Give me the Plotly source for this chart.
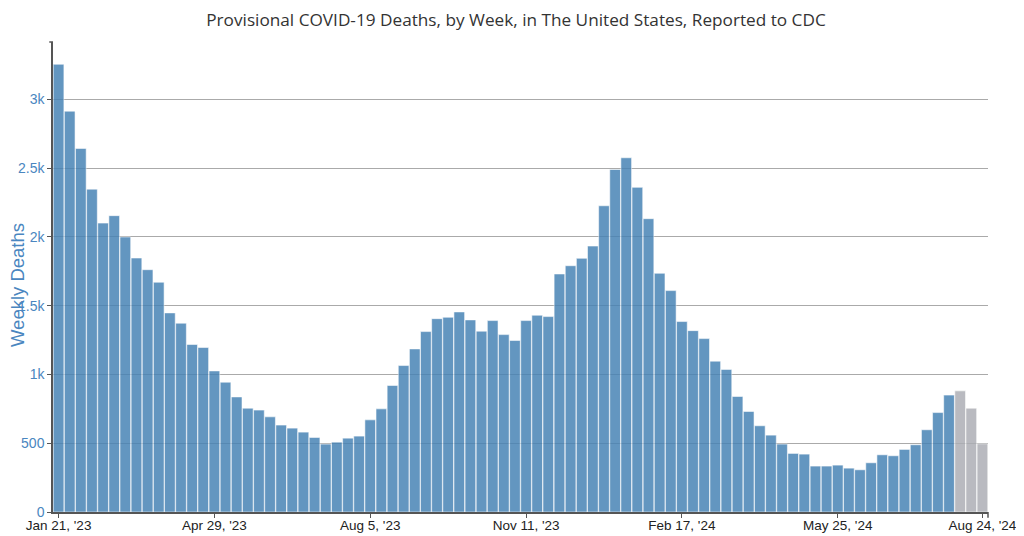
import pandas as pd
import plotly.graph_objects as go

# Weekly provisional COVID-19 deaths, weeks ending Jan 21 2023 .. Aug 24 2024
deaths = [
    3256, 2915, 2644, 2348, 2101, 2155, 2000, 1847, 1762, 1671,
    1448, 1373, 1218, 1196, 1026, 944, 837, 755, 741, 692,
    632, 610, 581, 542, 494, 508, 537, 552, 670, 750,
    920, 1065, 1186, 1312, 1406, 1416, 1455, 1397, 1315, 1392,
    1290, 1247, 1392, 1431, 1421, 1731, 1791, 1845, 1934, 2227,
    2491, 2576, 2361, 2133, 1736, 1610, 1385, 1319, 1261, 1097,
    1037, 840, 731, 627, 559, 494, 426, 421, 334, 334,
    341, 319, 307, 358, 416, 409, 455, 489, 598, 723,
    850, 881, 755, 496,
]
n_incomplete = 3  # last weeks shown in grey (data incomplete)
first_week = "2023-01-21"

tick_dates = ["2023-01-21", "2023-04-29", "2023-08-05", "2023-11-11",
              "2024-02-17", "2024-05-25", "2024-08-24"]
tick_text = ["Jan 21, '23", "Apr 29, '23", "Aug 5, '23", "Nov 11, '23",
             "Feb 17, '24", "May 25, '24", "Aug 24, '24"]
y_ticks = [0, 500, 1000, 1500, 2000, 2500, 3000]
y_text = ["0", "500", "1k", "1.5k", "2k", "2.5k", "3k"]

weeks = pd.date_range(first_week, periods=len(deaths), freq="7D")
n_complete = len(deaths) - n_incomplete

BLUE = "rgb(70,130,180)"
GREY = "rgb(172,174,180)"
colors = [BLUE] * n_complete + [GREY] * n_incomplete

fig = go.Figure(go.Bar(
    x=weeks, y=deaths,
    marker=dict(color=colors, opacity=0.84,
                line=dict(color="rgba(255,255,255,0.55)", width=1)),
    hovertemplate="%{x|%b %d, %Y}<br>%{y}<extra></extra>",
))

half = pd.Timedelta(hours=84)
# the page body adds an 8px offset, so the figure is 8px smaller than the window
fig.update_layout(
    width=1016, height=528,
    margin=dict(l=45, r=36, t=34, b=24),
    paper_bgcolor="white", plot_bgcolor="white",
    bargap=0.04,
    showlegend=False,
    title=dict(text="Provisional COVID-19 Deaths, by Week, in The United States, Reported to CDC",
               x=0.5, xanchor="center", y=0.977, yanchor="middle",
               font=dict(family="Open Sans", size=17.2, color="#333")),
    font=dict(family="Liberation Sans", size=14, color="#222"),
)
fig.update_xaxes(
    type="date", automargin=False,
    range=[weeks[0] - half, weeks[-1] + half],
    tickvals=pd.to_datetime(tick_dates), ticktext=tick_text,
    ticks="outside", ticklen=4, tickcolor="#555", tickwidth=1,
    ticklabelstandoff=-4,
    showline=True, linecolor="#555", linewidth=2,
    showgrid=False, zeroline=False,
    tickfont=dict(family="Liberation Sans", size=13.5, color="#222"),
)
fig.update_yaxes(
    automargin=False,
    range=[0, 3418],
    tickvals=y_ticks, ticktext=y_text,
    ticks="outside", ticklen=4, tickcolor="#555",
    showline=True, linecolor="#555", linewidth=1.5,
    showgrid=True, gridcolor="#aaaaaa", gridwidth=1.2,
    zeroline=False,
    tickfont=dict(family="Liberation Sans", size=14, color="#4a86c0"),
)
fig.add_annotation(
    text="Weekly Deaths", textangle=-90, showarrow=False,
    xref="paper", yref="paper", x=-0.0374, y=0.483,
    xanchor="center", yanchor="middle",
    font=dict(family="Liberation Sans", size=18.5, color="#4a86c0"),
)
# outer end ticks (top of y axis, right end of x axis)
fig.add_shape(type="line", xref="paper", yref="paper", x0=-0.004, x1=0, y0=1, y1=1,
              line=dict(color="#555", width=1.5))
fig.add_shape(type="line", xref="paper", yref="paper", x0=1, x1=1, y0=0, y1=-0.012,
              line=dict(color="#555", width=1.5))

fig.write_html("out.html")
